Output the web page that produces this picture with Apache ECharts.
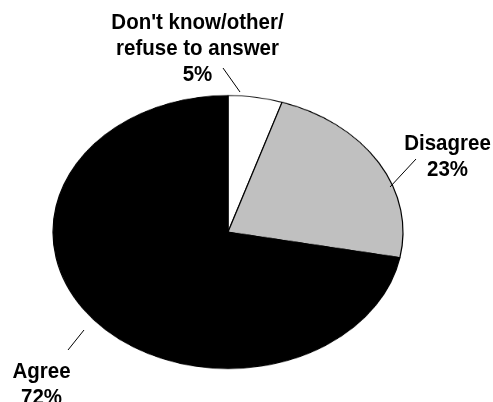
<!DOCTYPE html>
<html>
<head>
<meta charset="utf-8">
<script src="https://cdn.jsdelivr.net/npm/echarts@6/dist/echarts.min.js"></script>
<style>
  html, body { margin: 0; padding: 0; background: #fff; overflow: hidden; }
  #wrap { position: relative; width: 493px; height: 402px; overflow: hidden; }
  /* the pie is drawn as a circle and flattened into an ellipse */
  #pie { position: absolute; left: 0; top: -8px; width: 493px; height: 480px;
         transform-origin: 229px 240px; transform: scaleY(0.78); }
  #labels { position: absolute; left: 0; top: 0; width: 493px; height: 402px; }
</style>
</head>
<body>
<div id="wrap">
  <div id="pie"></div>
  <div id="labels"></div>
</div>
<script>
const categories = ["Don't know/other/\nrefuse to answer", 'Disagree', 'Agree'];
const values = [5, 23, 72];
const sliceColors = ['#ffffff', '#c0c0c0', '#000000'];

// label placement: text block centre and leader line end points
const labelLayout = [
  { x: 197.5, y: 48.5, line: [[223, 68], [240, 92]] },
  { x: 447.5, y: 157, line: [[416, 159], [390, 187]] },
  { x: 41.5, y: 385, line: [[84, 330], [68, 350]] }
];

const pieChart = echarts.init(document.getElementById('pie'), null, { renderer: 'canvas' });
pieChart.setOption({
  animation: false,
  series: [{
    type: 'pie',
    center: [228, 240],
    radius: 175,
    startAngle: 90,
    clockwise: true,
    silent: true,
    label: { show: false },
    labelLine: { show: false },
    emphasis: { disabled: true },
    itemStyle: { borderColor: '#000', borderWidth: 1.2 },
    data: categories.map((name, i) => ({
      name: name,
      value: values[i],
      itemStyle: { color: sliceColors[i] }
    }))
  }]
});

const labelChart = echarts.init(document.getElementById('labels'), null, { renderer: 'canvas' });
const elements = [];
categories.forEach((name, i) => {
  const lay = labelLayout[i];
  elements.push({
    type: 'text',
    x: lay.x,
    y: lay.y,
    scaleY: 1.12,
    silent: true,
    style: {
      text: name + '\n' + values[i] + '%',
      x: 0,
      y: 0,
      align: 'center',
      verticalAlign: 'middle',
      fontFamily: '"Liberation Sans", Arial, sans-serif',
      fontWeight: 'bold',
      fontSize: 20.5,
      lineHeight: 23,
      fill: '#000'
    }
  });
  elements.push({
    type: 'line',
    silent: true,
    shape: { x1: lay.line[0][0], y1: lay.line[0][1], x2: lay.line[1][0], y2: lay.line[1][1] },
    style: { stroke: '#000', lineWidth: 1 }
  });
});
labelChart.setOption({ animation: false, graphic: { elements: elements } });
</script>
</body>
</html>
